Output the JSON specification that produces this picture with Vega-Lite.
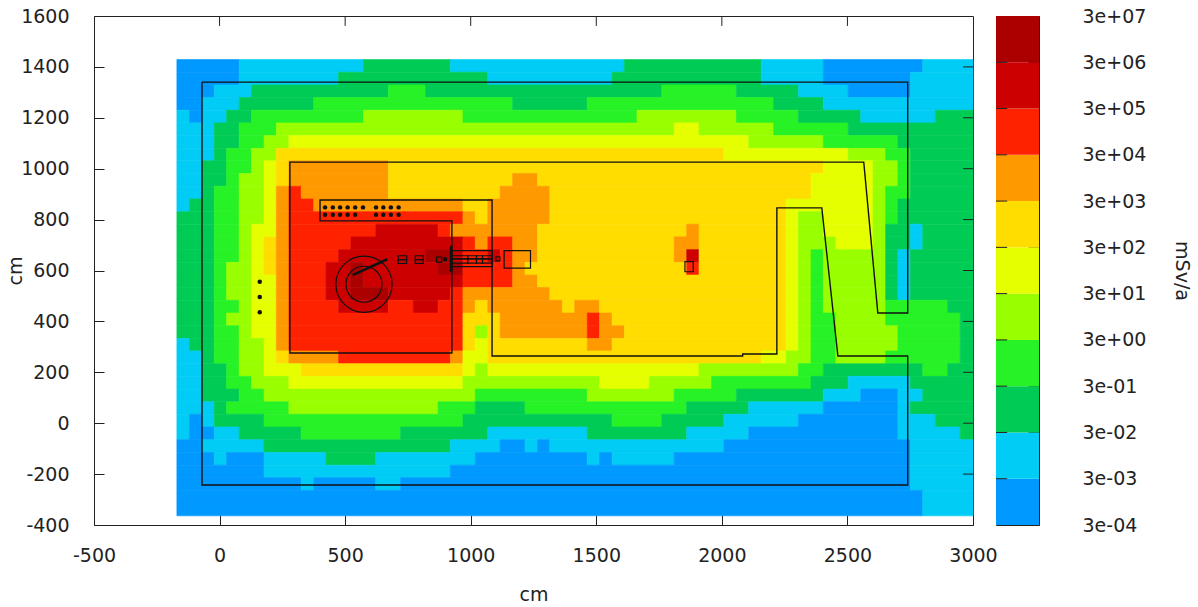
{"$schema":"https://vega.github.io/schema/vega-lite/v6.json","padding":{"left":6,"top":6,"right":0,"bottom":0},"background":"white","spacing":23,"bounds":"flush","config":{"view":{"stroke":"#222","strokeWidth":1},"axis":{"grid":false,"labelFont":"DejaVu Sans","titleFont":"DejaVu Sans","labelFontSize":19,"titleFontSize":19,"titleFontWeight":"normal","labelColor":"#222","titleColor":"#222","tickColor":"#222","domainColor":"#222"}},
"datasets":{
"cells":[
{"x":-170,"x2":78,"y":1379,"y2":1429,"v":0},{"x":78,"x2":573,"y":1379,"y2":1429,"v":1},{"x":573,"x2":919,"y":1379,"y2":1429,"v":2},{"x":919,"x2":1612,"y":1379,"y2":1429,"v":1},{"x":1612,"x2":2157,"y":1379,"y2":1429,"v":2},{"x":2157,"x2":2404,"y":1379,"y2":1429,"v":1},{"x":2404,"x2":2800,"y":1379,"y2":1429,"v":0},{"x":2800,"x2":3000,"y":1379,"y2":1429,"v":1},
{"x":-170,"x2":78,"y":1329,"y2":1379,"v":0},{"x":78,"x2":474,"y":1329,"y2":1379,"v":1},{"x":474,"x2":1068,"y":1329,"y2":1379,"v":2},{"x":1068,"x2":1563,"y":1329,"y2":1379,"v":1},{"x":1563,"x2":2157,"y":1329,"y2":1379,"v":2},{"x":2157,"x2":2404,"y":1329,"y2":1379,"v":1},{"x":2404,"x2":2751,"y":1329,"y2":1379,"v":0},{"x":2751,"x2":3000,"y":1329,"y2":1379,"v":1},
{"x":-170,"x2":-21,"y":1280,"y2":1329,"v":0},{"x":-21,"x2":127,"y":1280,"y2":1329,"v":1},{"x":127,"x2":672,"y":1280,"y2":1329,"v":2},{"x":672,"x2":820,"y":1280,"y2":1329,"v":3},{"x":820,"x2":1761,"y":1280,"y2":1329,"v":2},{"x":1761,"x2":2058,"y":1280,"y2":1329,"v":3},{"x":2058,"x2":2305,"y":1280,"y2":1329,"v":2},{"x":2305,"x2":2503,"y":1280,"y2":1329,"v":1},{"x":2503,"x2":2751,"y":1280,"y2":1329,"v":0},{"x":2751,"x2":3000,"y":1280,"y2":1329,"v":1},
{"x":-170,"x2":-71,"y":1230,"y2":1280,"v":0},{"x":-71,"x2":78,"y":1230,"y2":1280,"v":1},{"x":78,"x2":375,"y":1230,"y2":1280,"v":2},{"x":375,"x2":1167,"y":1230,"y2":1280,"v":3},{"x":1167,"x2":1464,"y":1230,"y2":1280,"v":2},{"x":1464,"x2":2206,"y":1230,"y2":1280,"v":3},{"x":2206,"x2":2404,"y":1230,"y2":1280,"v":2},{"x":2404,"x2":3000,"y":1230,"y2":1280,"v":1},
{"x":-170,"x2":-120,"y":1180,"y2":1230,"v":1},{"x":-120,"x2":-71,"y":1180,"y2":1230,"v":0},{"x":-71,"x2":28,"y":1180,"y2":1230,"v":1},{"x":28,"x2":127,"y":1180,"y2":1230,"v":2},{"x":127,"x2":573,"y":1180,"y2":1230,"v":3},{"x":573,"x2":969,"y":1180,"y2":1230,"v":4},{"x":969,"x2":1662,"y":1180,"y2":1230,"v":3},{"x":1662,"x2":2058,"y":1180,"y2":1230,"v":4},{"x":2058,"x2":2305,"y":1180,"y2":1230,"v":3},{"x":2305,"x2":2553,"y":1180,"y2":1230,"v":2},{"x":2553,"x2":2850,"y":1180,"y2":1230,"v":1},{"x":2850,"x2":3000,"y":1180,"y2":1230,"v":2},
{"x":-170,"x2":-21,"y":1130,"y2":1180,"v":1},{"x":-21,"x2":78,"y":1130,"y2":1180,"v":2},{"x":78,"x2":226,"y":1130,"y2":1180,"v":3},{"x":226,"x2":1810,"y":1130,"y2":1180,"v":4},{"x":1810,"x2":1909,"y":1130,"y2":1180,"v":5},{"x":1909,"x2":2206,"y":1130,"y2":1180,"v":4},{"x":2206,"x2":2503,"y":1130,"y2":1180,"v":3},{"x":2503,"x2":3000,"y":1130,"y2":1180,"v":2},
{"x":-170,"x2":-21,"y":1080,"y2":1130,"v":1},{"x":-21,"x2":78,"y":1080,"y2":1130,"v":2},{"x":78,"x2":177,"y":1080,"y2":1130,"v":3},{"x":177,"x2":276,"y":1080,"y2":1130,"v":4},{"x":276,"x2":2107,"y":1080,"y2":1130,"v":5},{"x":2107,"x2":2404,"y":1080,"y2":1130,"v":4},{"x":2404,"x2":2701,"y":1080,"y2":1130,"v":3},{"x":2701,"x2":3000,"y":1080,"y2":1130,"v":2},
{"x":-170,"x2":-21,"y":1031,"y2":1080,"v":1},{"x":-21,"x2":28,"y":1031,"y2":1080,"v":2},{"x":28,"x2":127,"y":1031,"y2":1080,"v":3},{"x":127,"x2":226,"y":1031,"y2":1080,"v":4},{"x":226,"x2":2008,"y":1031,"y2":1080,"v":6},{"x":2008,"x2":2503,"y":1031,"y2":1080,"v":5},{"x":2503,"x2":2652,"y":1031,"y2":1080,"v":4},{"x":2652,"x2":2751,"y":1031,"y2":1080,"v":3},{"x":2751,"x2":3000,"y":1031,"y2":1080,"v":2},
{"x":-170,"x2":-71,"y":981,"y2":1031,"v":1},{"x":-71,"x2":28,"y":981,"y2":1031,"v":2},{"x":28,"x2":127,"y":981,"y2":1031,"v":3},{"x":127,"x2":177,"y":981,"y2":1031,"v":4},{"x":177,"x2":226,"y":981,"y2":1031,"v":5},{"x":226,"x2":276,"y":981,"y2":1031,"v":6},{"x":276,"x2":672,"y":981,"y2":1031,"v":7},{"x":672,"x2":2404,"y":981,"y2":1031,"v":6},{"x":2404,"x2":2602,"y":981,"y2":1031,"v":5},{"x":2602,"x2":2701,"y":981,"y2":1031,"v":4},{"x":2701,"x2":2751,"y":981,"y2":1031,"v":3},{"x":2751,"x2":3000,"y":981,"y2":1031,"v":2},
{"x":-170,"x2":-71,"y":931,"y2":981,"v":1},{"x":-71,"x2":28,"y":931,"y2":981,"v":2},{"x":28,"x2":78,"y":931,"y2":981,"v":3},{"x":78,"x2":177,"y":931,"y2":981,"v":4},{"x":177,"x2":226,"y":931,"y2":981,"v":5},{"x":226,"x2":276,"y":931,"y2":981,"v":6},{"x":276,"x2":672,"y":931,"y2":981,"v":7},{"x":672,"x2":1167,"y":931,"y2":981,"v":6},{"x":1167,"x2":1266,"y":931,"y2":981,"v":7},{"x":1266,"x2":2355,"y":931,"y2":981,"v":6},{"x":2355,"x2":2602,"y":931,"y2":981,"v":5},{"x":2602,"x2":2701,"y":931,"y2":981,"v":4},{"x":2701,"x2":2751,"y":931,"y2":981,"v":3},{"x":2751,"x2":3000,"y":931,"y2":981,"v":2},
{"x":-170,"x2":-71,"y":881,"y2":931,"v":1},{"x":-71,"x2":-21,"y":881,"y2":931,"v":2},{"x":-21,"x2":78,"y":881,"y2":931,"v":3},{"x":78,"x2":177,"y":881,"y2":931,"v":4},{"x":177,"x2":226,"y":881,"y2":931,"v":5},{"x":226,"x2":276,"y":881,"y2":931,"v":7},{"x":276,"x2":325,"y":881,"y2":931,"v":8},{"x":325,"x2":672,"y":881,"y2":931,"v":7},{"x":672,"x2":1117,"y":881,"y2":931,"v":6},{"x":1117,"x2":1315,"y":881,"y2":931,"v":7},{"x":1315,"x2":2355,"y":881,"y2":931,"v":6},{"x":2355,"x2":2602,"y":881,"y2":931,"v":5},{"x":2602,"x2":2652,"y":881,"y2":931,"v":4},{"x":2652,"x2":2751,"y":881,"y2":931,"v":3},{"x":2751,"x2":3000,"y":881,"y2":931,"v":2},
{"x":-170,"x2":-120,"y":831,"y2":881,"v":1},{"x":-120,"x2":-21,"y":831,"y2":881,"v":2},{"x":-21,"x2":78,"y":831,"y2":881,"v":3},{"x":78,"x2":177,"y":831,"y2":881,"v":4},{"x":177,"x2":226,"y":831,"y2":881,"v":5},{"x":226,"x2":276,"y":831,"y2":881,"v":7},{"x":276,"x2":375,"y":831,"y2":881,"v":8},{"x":375,"x2":969,"y":831,"y2":881,"v":7},{"x":969,"x2":1068,"y":831,"y2":881,"v":6},{"x":1068,"x2":1315,"y":831,"y2":881,"v":7},{"x":1315,"x2":2256,"y":831,"y2":881,"v":6},{"x":2256,"x2":2602,"y":831,"y2":881,"v":5},{"x":2602,"x2":2652,"y":831,"y2":881,"v":4},{"x":2652,"x2":2701,"y":831,"y2":881,"v":3},{"x":2701,"x2":3000,"y":831,"y2":881,"v":2},
{"x":-170,"x2":-21,"y":782,"y2":831,"v":2},{"x":-21,"x2":78,"y":782,"y2":831,"v":3},{"x":78,"x2":177,"y":782,"y2":831,"v":4},{"x":177,"x2":226,"y":782,"y2":831,"v":5},{"x":226,"x2":276,"y":782,"y2":831,"v":7},{"x":276,"x2":969,"y":782,"y2":831,"v":8},{"x":969,"x2":1018,"y":782,"y2":831,"v":7},{"x":1018,"x2":1068,"y":782,"y2":831,"v":6},{"x":1068,"x2":1315,"y":782,"y2":831,"v":7},{"x":1315,"x2":2256,"y":782,"y2":831,"v":6},{"x":2256,"x2":2305,"y":782,"y2":831,"v":5},{"x":2305,"x2":2404,"y":782,"y2":831,"v":4},{"x":2404,"x2":2602,"y":782,"y2":831,"v":5},{"x":2602,"x2":2652,"y":782,"y2":831,"v":4},{"x":2652,"x2":2701,"y":782,"y2":831,"v":3},{"x":2701,"x2":3000,"y":782,"y2":831,"v":2},
{"x":-170,"x2":-21,"y":732,"y2":782,"v":2},{"x":-21,"x2":78,"y":732,"y2":782,"v":3},{"x":78,"x2":127,"y":732,"y2":782,"v":4},{"x":127,"x2":226,"y":732,"y2":782,"v":5},{"x":226,"x2":276,"y":732,"y2":782,"v":7},{"x":276,"x2":622,"y":732,"y2":782,"v":8},{"x":622,"x2":870,"y":732,"y2":782,"v":9},{"x":870,"x2":919,"y":732,"y2":782,"v":8},{"x":919,"x2":1266,"y":732,"y2":782,"v":7},{"x":1266,"x2":1860,"y":732,"y2":782,"v":6},{"x":1860,"x2":1909,"y":732,"y2":782,"v":7},{"x":1909,"x2":2256,"y":732,"y2":782,"v":6},{"x":2256,"x2":2305,"y":732,"y2":782,"v":5},{"x":2305,"x2":2404,"y":732,"y2":782,"v":4},{"x":2404,"x2":2602,"y":732,"y2":782,"v":5},{"x":2602,"x2":2652,"y":732,"y2":782,"v":4},{"x":2652,"x2":2751,"y":732,"y2":782,"v":2},{"x":2751,"x2":2800,"y":732,"y2":782,"v":1},{"x":2800,"x2":3000,"y":732,"y2":782,"v":2},
{"x":-170,"x2":-21,"y":682,"y2":732,"v":2},{"x":-21,"x2":78,"y":682,"y2":732,"v":3},{"x":78,"x2":127,"y":682,"y2":732,"v":4},{"x":127,"x2":177,"y":682,"y2":732,"v":5},{"x":177,"x2":226,"y":682,"y2":732,"v":6},{"x":226,"x2":276,"y":682,"y2":732,"v":7},{"x":276,"x2":523,"y":682,"y2":732,"v":8},{"x":523,"x2":969,"y":682,"y2":732,"v":9},{"x":969,"x2":1018,"y":682,"y2":732,"v":8},{"x":1018,"x2":1068,"y":682,"y2":732,"v":7},{"x":1068,"x2":1167,"y":682,"y2":732,"v":8},{"x":1167,"x2":1266,"y":682,"y2":732,"v":7},{"x":1266,"x2":1810,"y":682,"y2":732,"v":6},{"x":1810,"x2":1909,"y":682,"y2":732,"v":7},{"x":1909,"x2":2256,"y":682,"y2":732,"v":6},{"x":2256,"x2":2305,"y":682,"y2":732,"v":5},{"x":2305,"x2":2454,"y":682,"y2":732,"v":4},{"x":2454,"x2":2602,"y":682,"y2":732,"v":5},{"x":2602,"x2":2652,"y":682,"y2":732,"v":4},{"x":2652,"x2":2751,"y":682,"y2":732,"v":2},{"x":2751,"x2":2800,"y":682,"y2":732,"v":1},{"x":2800,"x2":3000,"y":682,"y2":732,"v":2},
{"x":-170,"x2":-21,"y":632,"y2":682,"v":2},{"x":-21,"x2":78,"y":632,"y2":682,"v":3},{"x":78,"x2":127,"y":632,"y2":682,"v":4},{"x":127,"x2":177,"y":632,"y2":682,"v":5},{"x":177,"x2":226,"y":632,"y2":682,"v":6},{"x":226,"x2":276,"y":632,"y2":682,"v":7},{"x":276,"x2":474,"y":632,"y2":682,"v":8},{"x":474,"x2":820,"y":632,"y2":682,"v":9},{"x":820,"x2":919,"y":632,"y2":682,"v":10},{"x":919,"x2":969,"y":632,"y2":682,"v":9},{"x":969,"x2":1068,"y":632,"y2":682,"v":8},{"x":1068,"x2":1117,"y":632,"y2":682,"v":9},{"x":1117,"x2":1167,"y":632,"y2":682,"v":8},{"x":1167,"x2":1266,"y":632,"y2":682,"v":7},{"x":1266,"x2":1810,"y":632,"y2":682,"v":6},{"x":1810,"x2":1860,"y":632,"y2":682,"v":7},{"x":1860,"x2":1909,"y":632,"y2":682,"v":9},{"x":1909,"x2":2256,"y":632,"y2":682,"v":6},{"x":2256,"x2":2305,"y":632,"y2":682,"v":5},{"x":2305,"x2":2355,"y":632,"y2":682,"v":4},{"x":2355,"x2":2404,"y":632,"y2":682,"v":3},{"x":2404,"x2":2652,"y":632,"y2":682,"v":4},{"x":2652,"x2":2701,"y":632,"y2":682,"v":2},{"x":2701,"x2":2751,"y":632,"y2":682,"v":1},{"x":2751,"x2":3000,"y":632,"y2":682,"v":2},
{"x":-170,"x2":-21,"y":582,"y2":632,"v":2},{"x":-21,"x2":28,"y":582,"y2":632,"v":3},{"x":28,"x2":127,"y":582,"y2":632,"v":4},{"x":127,"x2":177,"y":582,"y2":632,"v":5},{"x":177,"x2":226,"y":582,"y2":632,"v":6},{"x":226,"x2":276,"y":582,"y2":632,"v":7},{"x":276,"x2":424,"y":582,"y2":632,"v":8},{"x":424,"x2":523,"y":582,"y2":632,"v":9},{"x":523,"x2":573,"y":582,"y2":632,"v":10},{"x":573,"x2":870,"y":582,"y2":632,"v":9},{"x":870,"x2":969,"y":582,"y2":632,"v":10},{"x":969,"x2":1167,"y":582,"y2":632,"v":8},{"x":1167,"x2":1216,"y":582,"y2":632,"v":7},{"x":1216,"x2":1860,"y":582,"y2":632,"v":6},{"x":1860,"x2":1909,"y":582,"y2":632,"v":8},{"x":1909,"x2":2256,"y":582,"y2":632,"v":6},{"x":2256,"x2":2305,"y":582,"y2":632,"v":5},{"x":2305,"x2":2355,"y":582,"y2":632,"v":4},{"x":2355,"x2":2404,"y":582,"y2":632,"v":3},{"x":2404,"x2":2652,"y":582,"y2":632,"v":4},{"x":2652,"x2":2701,"y":582,"y2":632,"v":2},{"x":2701,"x2":2751,"y":582,"y2":632,"v":1},{"x":2751,"x2":3000,"y":582,"y2":632,"v":2},
{"x":-170,"x2":-21,"y":533,"y2":582,"v":2},{"x":-21,"x2":28,"y":533,"y2":582,"v":3},{"x":28,"x2":127,"y":533,"y2":582,"v":4},{"x":127,"x2":226,"y":533,"y2":582,"v":5},{"x":226,"x2":276,"y":533,"y2":582,"v":7},{"x":276,"x2":424,"y":533,"y2":582,"v":8},{"x":424,"x2":523,"y":533,"y2":582,"v":9},{"x":523,"x2":573,"y":533,"y2":582,"v":10},{"x":573,"x2":969,"y":533,"y2":582,"v":9},{"x":969,"x2":1167,"y":533,"y2":582,"v":8},{"x":1167,"x2":1266,"y":533,"y2":582,"v":7},{"x":1266,"x2":2256,"y":533,"y2":582,"v":6},{"x":2256,"x2":2305,"y":533,"y2":582,"v":5},{"x":2305,"x2":2355,"y":533,"y2":582,"v":4},{"x":2355,"x2":2404,"y":533,"y2":582,"v":3},{"x":2404,"x2":2652,"y":533,"y2":582,"v":4},{"x":2652,"x2":2701,"y":533,"y2":582,"v":2},{"x":2701,"x2":2751,"y":533,"y2":582,"v":1},{"x":2751,"x2":3000,"y":533,"y2":582,"v":2},
{"x":-170,"x2":-21,"y":483,"y2":533,"v":2},{"x":-21,"x2":28,"y":483,"y2":533,"v":3},{"x":28,"x2":127,"y":483,"y2":533,"v":4},{"x":127,"x2":226,"y":483,"y2":533,"v":5},{"x":226,"x2":276,"y":483,"y2":533,"v":7},{"x":276,"x2":424,"y":483,"y2":533,"v":8},{"x":424,"x2":523,"y":483,"y2":533,"v":9},{"x":523,"x2":672,"y":483,"y2":533,"v":10},{"x":672,"x2":919,"y":483,"y2":533,"v":9},{"x":919,"x2":969,"y":483,"y2":533,"v":8},{"x":969,"x2":1315,"y":483,"y2":533,"v":7},{"x":1315,"x2":2256,"y":483,"y2":533,"v":6},{"x":2256,"x2":2305,"y":483,"y2":533,"v":5},{"x":2305,"x2":2355,"y":483,"y2":533,"v":4},{"x":2355,"x2":2404,"y":483,"y2":533,"v":3},{"x":2404,"x2":2652,"y":483,"y2":533,"v":4},{"x":2652,"x2":2701,"y":483,"y2":533,"v":2},{"x":2701,"x2":2751,"y":483,"y2":533,"v":1},{"x":2751,"x2":3000,"y":483,"y2":533,"v":2},
{"x":-170,"x2":-21,"y":433,"y2":483,"v":2},{"x":-21,"x2":78,"y":433,"y2":483,"v":3},{"x":78,"x2":127,"y":433,"y2":483,"v":4},{"x":127,"x2":226,"y":433,"y2":483,"v":5},{"x":226,"x2":276,"y":433,"y2":483,"v":7},{"x":276,"x2":474,"y":433,"y2":483,"v":8},{"x":474,"x2":672,"y":433,"y2":483,"v":9},{"x":672,"x2":771,"y":433,"y2":483,"v":8},{"x":771,"x2":870,"y":433,"y2":483,"v":9},{"x":870,"x2":969,"y":433,"y2":483,"v":8},{"x":969,"x2":1018,"y":433,"y2":483,"v":7},{"x":1018,"x2":1068,"y":433,"y2":483,"v":6},{"x":1068,"x2":1365,"y":433,"y2":483,"v":7},{"x":1365,"x2":1414,"y":433,"y2":483,"v":6},{"x":1414,"x2":1513,"y":433,"y2":483,"v":7},{"x":1513,"x2":2256,"y":433,"y2":483,"v":6},{"x":2256,"x2":2305,"y":433,"y2":483,"v":5},{"x":2305,"x2":2355,"y":433,"y2":483,"v":4},{"x":2355,"x2":2404,"y":433,"y2":483,"v":3},{"x":2404,"x2":2652,"y":433,"y2":483,"v":4},{"x":2652,"x2":2899,"y":433,"y2":483,"v":3},{"x":2899,"x2":3000,"y":433,"y2":483,"v":2},
{"x":-170,"x2":-21,"y":383,"y2":433,"v":2},{"x":-21,"x2":28,"y":383,"y2":433,"v":3},{"x":28,"x2":127,"y":383,"y2":433,"v":4},{"x":127,"x2":226,"y":383,"y2":433,"v":5},{"x":226,"x2":276,"y":383,"y2":433,"v":7},{"x":276,"x2":969,"y":383,"y2":433,"v":8},{"x":969,"x2":1117,"y":383,"y2":433,"v":6},{"x":1117,"x2":1464,"y":383,"y2":433,"v":7},{"x":1464,"x2":1513,"y":383,"y2":433,"v":8},{"x":1513,"x2":1563,"y":383,"y2":433,"v":7},{"x":1563,"x2":2256,"y":383,"y2":433,"v":6},{"x":2256,"x2":2305,"y":383,"y2":433,"v":5},{"x":2305,"x2":2355,"y":383,"y2":433,"v":4},{"x":2355,"x2":2454,"y":383,"y2":433,"v":3},{"x":2454,"x2":2652,"y":383,"y2":433,"v":4},{"x":2652,"x2":2949,"y":383,"y2":433,"v":3},{"x":2949,"x2":3000,"y":383,"y2":433,"v":2},
{"x":-170,"x2":-21,"y":333,"y2":383,"v":2},{"x":-21,"x2":78,"y":333,"y2":383,"v":3},{"x":78,"x2":127,"y":333,"y2":383,"v":4},{"x":127,"x2":226,"y":333,"y2":383,"v":5},{"x":226,"x2":276,"y":333,"y2":383,"v":7},{"x":276,"x2":969,"y":333,"y2":383,"v":8},{"x":969,"x2":1018,"y":333,"y2":383,"v":6},{"x":1018,"x2":1068,"y":333,"y2":383,"v":4},{"x":1068,"x2":1117,"y":333,"y2":383,"v":6},{"x":1117,"x2":1464,"y":333,"y2":383,"v":7},{"x":1464,"x2":1513,"y":333,"y2":383,"v":8},{"x":1513,"x2":1612,"y":333,"y2":383,"v":7},{"x":1612,"x2":2256,"y":333,"y2":383,"v":6},{"x":2256,"x2":2305,"y":333,"y2":383,"v":5},{"x":2305,"x2":2355,"y":333,"y2":383,"v":4},{"x":2355,"x2":2454,"y":333,"y2":383,"v":3},{"x":2454,"x2":2701,"y":333,"y2":383,"v":4},{"x":2701,"x2":2949,"y":333,"y2":383,"v":3},{"x":2949,"x2":3000,"y":333,"y2":383,"v":2},
{"x":-170,"x2":-120,"y":284,"y2":333,"v":1},{"x":-120,"x2":-21,"y":284,"y2":333,"v":2},{"x":-21,"x2":78,"y":284,"y2":333,"v":3},{"x":78,"x2":177,"y":284,"y2":333,"v":4},{"x":177,"x2":226,"y":284,"y2":333,"v":5},{"x":226,"x2":276,"y":284,"y2":333,"v":7},{"x":276,"x2":969,"y":284,"y2":333,"v":8},{"x":969,"x2":1018,"y":284,"y2":333,"v":6},{"x":1018,"x2":1068,"y":284,"y2":333,"v":5},{"x":1068,"x2":1464,"y":284,"y2":333,"v":6},{"x":1464,"x2":1563,"y":284,"y2":333,"v":7},{"x":1563,"x2":2256,"y":284,"y2":333,"v":6},{"x":2256,"x2":2305,"y":284,"y2":333,"v":5},{"x":2305,"x2":2355,"y":284,"y2":333,"v":4},{"x":2355,"x2":2454,"y":284,"y2":333,"v":3},{"x":2454,"x2":2701,"y":284,"y2":333,"v":4},{"x":2701,"x2":2949,"y":284,"y2":333,"v":3},{"x":2949,"x2":3000,"y":284,"y2":333,"v":2},
{"x":-170,"x2":-71,"y":234,"y2":284,"v":1},{"x":-71,"x2":-21,"y":234,"y2":284,"v":2},{"x":-21,"x2":78,"y":234,"y2":284,"v":3},{"x":78,"x2":177,"y":234,"y2":284,"v":4},{"x":177,"x2":226,"y":234,"y2":284,"v":5},{"x":226,"x2":276,"y":234,"y2":284,"v":6},{"x":276,"x2":474,"y":234,"y2":284,"v":7},{"x":474,"x2":919,"y":234,"y2":284,"v":8},{"x":919,"x2":969,"y":234,"y2":284,"v":7},{"x":969,"x2":1068,"y":234,"y2":284,"v":5},{"x":1068,"x2":2157,"y":234,"y2":284,"v":6},{"x":2157,"x2":2256,"y":234,"y2":284,"v":5},{"x":2256,"x2":2355,"y":234,"y2":284,"v":4},{"x":2355,"x2":2454,"y":234,"y2":284,"v":3},{"x":2454,"x2":2652,"y":234,"y2":284,"v":4},{"x":2652,"x2":2949,"y":234,"y2":284,"v":3},{"x":2949,"x2":3000,"y":234,"y2":284,"v":2},
{"x":-170,"x2":-71,"y":184,"y2":234,"v":1},{"x":-71,"x2":28,"y":184,"y2":234,"v":2},{"x":28,"x2":78,"y":184,"y2":234,"v":3},{"x":78,"x2":177,"y":184,"y2":234,"v":4},{"x":177,"x2":325,"y":184,"y2":234,"v":5},{"x":325,"x2":969,"y":184,"y2":234,"v":6},{"x":969,"x2":1018,"y":184,"y2":234,"v":5},{"x":1018,"x2":1068,"y":184,"y2":234,"v":4},{"x":1068,"x2":1909,"y":184,"y2":234,"v":5},{"x":1909,"x2":2305,"y":184,"y2":234,"v":4},{"x":2305,"x2":2404,"y":184,"y2":234,"v":3},{"x":2404,"x2":2800,"y":184,"y2":234,"v":2},{"x":2800,"x2":2899,"y":184,"y2":234,"v":3},{"x":2899,"x2":3000,"y":184,"y2":234,"v":2},
{"x":-170,"x2":-71,"y":134,"y2":184,"v":1},{"x":-71,"x2":28,"y":134,"y2":184,"v":2},{"x":28,"x2":127,"y":134,"y2":184,"v":3},{"x":127,"x2":276,"y":134,"y2":184,"v":4},{"x":276,"x2":969,"y":134,"y2":184,"v":5},{"x":969,"x2":1513,"y":134,"y2":184,"v":4},{"x":1513,"x2":1711,"y":134,"y2":184,"v":5},{"x":1711,"x2":1959,"y":134,"y2":184,"v":4},{"x":1959,"x2":2355,"y":134,"y2":184,"v":3},{"x":2355,"x2":2503,"y":134,"y2":184,"v":2},{"x":2503,"x2":2751,"y":134,"y2":184,"v":1},{"x":2751,"x2":3000,"y":134,"y2":184,"v":2},
{"x":-170,"x2":-71,"y":84,"y2":134,"v":1},{"x":-71,"x2":78,"y":84,"y2":134,"v":2},{"x":78,"x2":177,"y":84,"y2":134,"v":3},{"x":177,"x2":1018,"y":84,"y2":134,"v":4},{"x":1018,"x2":1464,"y":84,"y2":134,"v":3},{"x":1464,"x2":1810,"y":84,"y2":134,"v":4},{"x":1810,"x2":2058,"y":84,"y2":134,"v":3},{"x":2058,"x2":2404,"y":84,"y2":134,"v":2},{"x":2404,"x2":2553,"y":84,"y2":134,"v":1},{"x":2553,"x2":2701,"y":84,"y2":134,"v":0},{"x":2701,"x2":2800,"y":84,"y2":134,"v":1},{"x":2800,"x2":3000,"y":84,"y2":134,"v":2},
{"x":-170,"x2":-21,"y":35,"y2":84,"v":1},{"x":-21,"x2":28,"y":35,"y2":84,"v":2},{"x":28,"x2":276,"y":35,"y2":84,"v":3},{"x":276,"x2":870,"y":35,"y2":84,"v":4},{"x":870,"x2":1018,"y":35,"y2":84,"v":3},{"x":1018,"x2":1216,"y":35,"y2":84,"v":2},{"x":1216,"x2":1860,"y":35,"y2":84,"v":3},{"x":1860,"x2":2107,"y":35,"y2":84,"v":2},{"x":2107,"x2":2404,"y":35,"y2":84,"v":1},{"x":2404,"x2":2701,"y":35,"y2":84,"v":0},{"x":2701,"x2":2751,"y":35,"y2":84,"v":1},{"x":2751,"x2":3000,"y":35,"y2":84,"v":2},
{"x":-170,"x2":-120,"y":-15,"y2":35,"v":1},{"x":-120,"x2":-71,"y":-15,"y2":35,"v":0},{"x":-71,"x2":-21,"y":-15,"y2":35,"v":1},{"x":-21,"x2":177,"y":-15,"y2":35,"v":2},{"x":177,"x2":969,"y":-15,"y2":35,"v":3},{"x":969,"x2":1563,"y":-15,"y2":35,"v":2},{"x":1563,"x2":1761,"y":-15,"y2":35,"v":3},{"x":1761,"x2":2008,"y":-15,"y2":35,"v":2},{"x":2008,"x2":2305,"y":-15,"y2":35,"v":1},{"x":2305,"x2":2701,"y":-15,"y2":35,"v":0},{"x":2701,"x2":2850,"y":-15,"y2":35,"v":1},{"x":2850,"x2":3000,"y":-15,"y2":35,"v":2},
{"x":-170,"x2":-120,"y":-65,"y2":-15,"v":1},{"x":-120,"x2":-21,"y":-65,"y2":-15,"v":0},{"x":-21,"x2":78,"y":-65,"y2":-15,"v":1},{"x":78,"x2":325,"y":-65,"y2":-15,"v":2},{"x":325,"x2":721,"y":-65,"y2":-15,"v":3},{"x":721,"x2":1068,"y":-65,"y2":-15,"v":2},{"x":1068,"x2":1464,"y":-65,"y2":-15,"v":1},{"x":1464,"x2":1860,"y":-65,"y2":-15,"v":2},{"x":1860,"x2":2107,"y":-65,"y2":-15,"v":1},{"x":2107,"x2":2701,"y":-65,"y2":-15,"v":0},{"x":2701,"x2":2949,"y":-65,"y2":-15,"v":1},{"x":2949,"x2":3000,"y":-65,"y2":-15,"v":2},
{"x":-170,"x2":-71,"y":-115,"y2":-65,"v":0},{"x":-71,"x2":177,"y":-115,"y2":-65,"v":1},{"x":177,"x2":919,"y":-115,"y2":-65,"v":2},{"x":919,"x2":1117,"y":-115,"y2":-65,"v":1},{"x":1117,"x2":1216,"y":-115,"y2":-65,"v":0},{"x":1216,"x2":1266,"y":-115,"y2":-65,"v":1},{"x":1266,"x2":1315,"y":-115,"y2":-65,"v":0},{"x":1315,"x2":2008,"y":-115,"y2":-65,"v":1},{"x":2008,"x2":2751,"y":-115,"y2":-65,"v":0},{"x":2751,"x2":3000,"y":-115,"y2":-65,"v":1},
{"x":-170,"x2":-21,"y":-165,"y2":-115,"v":0},{"x":-21,"x2":28,"y":-165,"y2":-115,"v":1},{"x":28,"x2":177,"y":-165,"y2":-115,"v":0},{"x":177,"x2":424,"y":-165,"y2":-115,"v":1},{"x":424,"x2":622,"y":-165,"y2":-115,"v":2},{"x":622,"x2":1018,"y":-165,"y2":-115,"v":1},{"x":1018,"x2":1464,"y":-165,"y2":-115,"v":0},{"x":1464,"x2":1513,"y":-165,"y2":-115,"v":1},{"x":1513,"x2":1563,"y":-165,"y2":-115,"v":0},{"x":1563,"x2":1810,"y":-165,"y2":-115,"v":1},{"x":1810,"x2":2751,"y":-165,"y2":-115,"v":0},{"x":2751,"x2":3000,"y":-165,"y2":-115,"v":1},
{"x":-170,"x2":177,"y":-214,"y2":-165,"v":0},{"x":177,"x2":919,"y":-214,"y2":-165,"v":1},{"x":919,"x2":2751,"y":-214,"y2":-165,"v":0},{"x":2751,"x2":3000,"y":-214,"y2":-165,"v":1},
{"x":-170,"x2":325,"y":-264,"y2":-214,"v":0},{"x":325,"x2":375,"y":-264,"y2":-214,"v":1},{"x":375,"x2":622,"y":-264,"y2":-214,"v":0},{"x":622,"x2":721,"y":-264,"y2":-214,"v":1},{"x":721,"x2":2751,"y":-264,"y2":-214,"v":0},{"x":2751,"x2":3000,"y":-264,"y2":-214,"v":1},
{"x":-170,"x2":2800,"y":-314,"y2":-264,"v":0},{"x":2800,"x2":3000,"y":-314,"y2":-264,"v":1},
{"x":-170,"x2":2800,"y":-364,"y2":-314,"v":0},{"x":2800,"x2":3000,"y":-364,"y2":-314,"v":1}
],
"outline":[{"o":1,"x":-70,"y":1340},{"o":2,"x":2740,"y":1340},{"o":3,"x":2740,"y":433},{"o":4,"x":2621,"y":433},{"o":5,"x":2565,"y":1026},{"o":6,"x":280,"y":1026},{"o":7,"x":280,"y":276},{"o":8,"x":925,"y":276},{"o":9,"x":925,"y":795},{"o":10,"x":400,"y":795},{"o":11,"x":400,"y":877},{"o":12,"x":1085,"y":877},{"o":13,"x":1085,"y":264},{"o":14,"x":2083,"y":264},{"o":15,"x":2083,"y":272},{"o":16,"x":2219,"y":272},{"o":17,"x":2219,"y":846},{"o":18,"x":2398,"y":846},{"o":19,"x":2462,"y":264},{"o":20,"x":2740,"y":264},{"o":21,"x":2740,"y":-243},{"o":22,"x":-70,"y":-243},{"o":23,"x":-70,"y":1340}],
"boxes":[{"x":711,"x2":745,"y":643,"y2":658},{"x":711,"x2":745,"y":628,"y2":643},{"x":779,"x2":811,"y":643,"y2":658},{"x":779,"x2":811,"y":628,"y2":643},{"x":864,"x2":884,"y":633,"y2":653},{"x":924,"x2":1086,"y":615,"y2":678},{"x":924,"x2":988,"y":629,"y2":646},{"x":924,"x2":988,"y":646,"y2":658},{"x":988,"x2":1023,"y":629,"y2":646},{"x":988,"x2":1023,"y":646,"y2":658},{"x":1023,"x2":1047,"y":629,"y2":646},{"x":1023,"x2":1047,"y":646,"y2":658},{"x":1047,"x2":1083,"y":629,"y2":646},{"x":1047,"x2":1083,"y":646,"y2":658},{"x":1100,"x2":1116,"y":638,"y2":654},{"x":1133,"x2":1238,"y":609,"y2":678},{"x":1853,"x2":1886,"y":595,"y2":635}],
"thick":[{"g":"a","o":1,"x":922,"y":595},{"g":"a","o":2,"x":922,"y":696},{"g":"b","o":1,"x":530,"y":582},{"g":"b","o":2,"x":668,"y":644}],
"rings":[{"x":575,"y":546}],
"dots":[{"x":420,"y":848},{"x":451,"y":848},{"x":480,"y":848},{"x":510,"y":848},{"x":540,"y":848},{"x":571,"y":848},{"x":623,"y":848},{"x":652,"y":848},{"x":682,"y":848},{"x":713,"y":848},{"x":420,"y":819},{"x":451,"y":819},{"x":480,"y":819},{"x":510,"y":819},{"x":540,"y":819},{"x":623,"y":819},{"x":652,"y":819},{"x":682,"y":819},{"x":713,"y":819},{"x":898,"y":644},{"x":160,"y":556},{"x":160,"y":496},{"x":160,"y":436}],
"vticks":[{"x":0,"y":1600,"y2":1561},{"x":500,"y":1600,"y2":1561},{"x":1000,"y":1600,"y2":1561},{"x":1500,"y":1600,"y2":1561},{"x":2000,"y":1600,"y2":1561},{"x":2500,"y":1600,"y2":1561}],
"hticks":[{"x":3000,"x2":2960,"y":-200},{"x":3000,"x2":2960,"y":0},{"x":3000,"x2":2960,"y":200},{"x":3000,"x2":2960,"y":400},{"x":3000,"x2":2960,"y":600},{"x":3000,"x2":2960,"y":800},{"x":3000,"x2":2960,"y":1000},{"x":3000,"x2":2960,"y":1200},{"x":3000,"x2":2960,"y":1400}],
"bar":[{"a":0,"b":1,"lo":0.0003,"hi":0.003,"v":0},{"a":0,"b":1,"lo":0.003,"hi":0.03,"v":1},{"a":0,"b":1,"lo":0.03,"hi":0.3,"v":2},{"a":0,"b":1,"lo":0.3,"hi":3,"v":3},{"a":0,"b":1,"lo":3,"hi":30,"v":4},{"a":0,"b":1,"lo":30,"hi":300,"v":5},{"a":0,"b":1,"lo":300,"hi":3000,"v":6},{"a":0,"b":1,"lo":3000,"hi":30000,"v":7},{"a":0,"b":1,"lo":30000,"hi":300000,"v":8},{"a":0,"b":1,"lo":300000,"hi":3000000,"v":9},{"a":0,"b":1,"lo":3000000,"hi":30000000,"v":10}],
"barticks":[{"a":0,"b":0.26,"t":0.003},{"a":0,"b":0.26,"t":0.03},{"a":0,"b":0.26,"t":0.3},{"a":0,"b":0.26,"t":3},{"a":0,"b":0.26,"t":30},{"a":0,"b":0.26,"t":300},{"a":0,"b":0.26,"t":3000},{"a":0,"b":0.26,"t":30000},{"a":0,"b":0.26,"t":300000},{"a":0,"b":0.26,"t":3000000}]
},
"hconcat":[
{"width":879,"height":509,"layer":[
{"data":{"name":"cells"},"mark":{"type":"rect","strokeWidth":0.6},"encoding":{
"x":{"field":"x","type":"quantitative","scale":{"domain":[-500,3000],"nice":false},"axis":{"orient":"bottom","title":"cm","values":[-500,0,500,1000,1500,2000,2500,3000],"labelExpr":"''+datum.value","tickSize":-10,"labelPadding":31,"titlePadding":20,"domain":false,"labelFlush":false}},"x2":{"field":"x2"},
"y":{"field":"y","type":"quantitative","scale":{"domain":[-400,1600],"nice":false},"axis":{"orient":"left","title":"cm","values":[-400,-200,0,200,400,600,800,1000,1200,1400,1600],"labelExpr":"''+datum.value","tickSize":-10,"labelPadding":35,"titlePadding":-5,"domain":false,"labelFlush":false}},"y2":{"field":"y2"},
"color":{"field":"v","type":"ordinal","scale":{"domain":[0,1,2,3,4,5,6,7,8,9,10],"range":["#0099ff","#00ccf5","#00cc55","#26f226","#99ff00","#e5ff00","#ffdd00","#ff9900","#ff2200","#cc0000","#aa0000"]},"legend":null},
"stroke":{"field":"v","type":"ordinal","scale":{"domain":[0,1,2,3,4,5,6,7,8,9,10],"range":["#0099ff","#00ccf5","#00cc55","#26f226","#99ff00","#e5ff00","#ffdd00","#ff9900","#ff2200","#cc0000","#aa0000"]},"legend":null}}},
{"data":{"name":"vticks"},"mark":{"type":"rule","color":"#222"},"encoding":{"x":{"field":"x","type":"quantitative"},"y":{"field":"y","type":"quantitative"},"y2":{"field":"y2"}}},
{"data":{"name":"hticks"},"mark":{"type":"rule","color":"#222"},"encoding":{"x":{"field":"x","type":"quantitative"},"x2":{"field":"x2"},"y":{"field":"y","type":"quantitative"}}},
{"data":{"name":"outline"},"mark":{"type":"line","color":"#111","strokeWidth":1.4},"encoding":{"x":{"field":"x","type":"quantitative"},"y":{"field":"y","type":"quantitative"},"order":{"field":"o"}}},
{"data":{"name":"boxes"},"mark":{"type":"rect","fill":null,"stroke":"#111","strokeWidth":1.2},"encoding":{"x":{"field":"x","type":"quantitative"},"x2":{"field":"x2"},"y":{"field":"y","type":"quantitative"},"y2":{"field":"y2"}}},
{"data":{"name":"thick"},"mark":{"type":"line","color":"#111","strokeWidth":2.6},"encoding":{"x":{"field":"x","type":"quantitative"},"y":{"field":"y","type":"quantitative"},"detail":{"field":"g"},"order":{"field":"o"}}},
{"data":{"name":"rings"},"mark":{"type":"point","shape":"circle","filled":false,"size":3157,"color":"#111","strokeWidth":1.2,"opacity":1},"encoding":{"x":{"field":"x","type":"quantitative"},"y":{"field":"y","type":"quantitative"}}},
{"data":{"name":"rings"},"mark":{"type":"point","shape":"circle","filled":false,"size":1295,"color":"#111","strokeWidth":1.2,"opacity":1},"encoding":{"x":{"field":"x","type":"quantitative"},"y":{"field":"y","type":"quantitative"}}},
{"data":{"name":"dots"},"mark":{"type":"point","shape":"circle","filled":true,"size":20,"color":"#111","opacity":1},"encoding":{"x":{"field":"x","type":"quantitative"},"y":{"field":"y","type":"quantitative"}}}
]},
{"width":43,"height":509,"layer":[
{"data":{"name":"bar"},"mark":{"type":"rect"},"encoding":{
"x":{"field":"a","type":"quantitative","scale":{"domain":[0,1],"nice":false},"axis":null},"x2":{"field":"b"},
"y":{"field":"lo","type":"quantitative","scale":{"type":"log","domain":[0.0003,30000000],"nice":false},"axis":{"orient":"right","title":"mSv/a","values":[0.003,0.03,0.3,3,30,300,3000,30000,300000,3000000,0.0003,30000000],"labelExpr":"replace(format(datum.value,'.0e'),/([+-])(\\d)$/,'$10$2')","tickSize":-11,"labelPadding":54,"labelAlign":"left","titlePadding":26,"domain":false,"labelFlush":false}},"y2":{"field":"hi"},
"color":{"field":"v","type":"ordinal","scale":{"domain":[0,1,2,3,4,5,6,7,8,9,10],"range":["#0099ff","#00ccf5","#00cc55","#26f226","#99ff00","#e5ff00","#ffdd00","#ff9900","#ff2200","#cc0000","#aa0000"]},"legend":null}}},
{"data":{"name":"barticks"},"mark":{"type":"rule","color":"#222"},"encoding":{"x":{"field":"a","type":"quantitative"},"x2":{"field":"b"},"y":{"field":"t","type":"quantitative"}}}
]}
]}
